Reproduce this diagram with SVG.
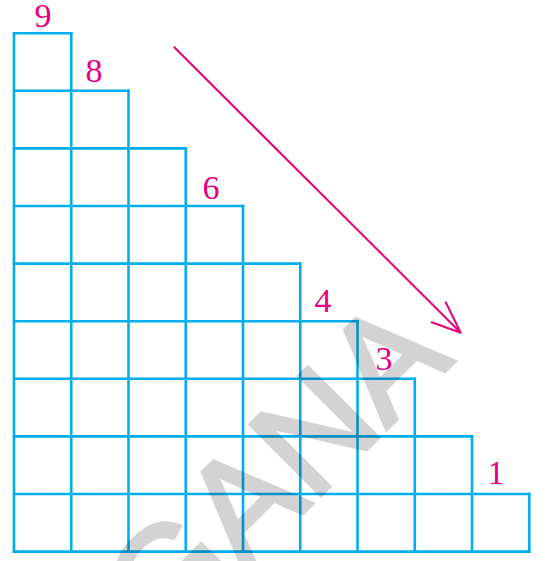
<svg xmlns="http://www.w3.org/2000/svg" width="550" height="561" viewBox="0 0 550 561">
<style>
.g line{stroke:#00AEEF;stroke-width:2.6;stroke-linecap:square}
.lbl{font-family:"Liberation Serif","Times New Roman",serif;font-size:34px;fill:#E6007E;text-anchor:middle}
.arr{stroke:#E6007E;stroke-width:2;fill:none;stroke-linecap:round;stroke-linejoin:round}
.wm{font-family:"Liberation Sans",Arial,sans-serif;font-size:145px;fill:#000;stroke:#000;stroke-width:4;stroke-linejoin:miter}
</style>
<rect width="550" height="561" fill="#fff"/>
<g id="grid" class="g">
<line x1="14" y1="33.2" x2="14" y2="551.6"/>
<line x1="71.25" y1="33.2" x2="71.25" y2="551.6"/>
<line x1="128.5" y1="90.8" x2="128.5" y2="551.6"/>
<line x1="185.75" y1="148.4" x2="185.75" y2="551.6"/>
<line x1="243" y1="206" x2="243" y2="551.6"/>
<line x1="300.25" y1="263.6" x2="300.25" y2="551.6"/>
<line x1="357.5" y1="321.2" x2="357.5" y2="551.6"/>
<line x1="414.75" y1="378.8" x2="414.75" y2="551.6"/>
<line x1="472" y1="436.4" x2="472" y2="551.6"/>
<line x1="529.25" y1="494" x2="529.25" y2="551.6"/>
<line x1="14" y1="33.2" x2="71.25" y2="33.2"/>
<line x1="14" y1="90.8" x2="128.5" y2="90.8"/>
<line x1="14" y1="148.4" x2="185.75" y2="148.4"/>
<line x1="14" y1="206" x2="243" y2="206"/>
<line x1="14" y1="263.6" x2="300.25" y2="263.6"/>
<line x1="14" y1="321.2" x2="357.5" y2="321.2"/>
<line x1="14" y1="378.8" x2="414.75" y2="378.8"/>
<line x1="14" y1="436.4" x2="472" y2="436.4"/>
<line x1="14" y1="494" x2="529.25" y2="494"/>
<line x1="14" y1="551.6" x2="529.25" y2="551.6"/>
</g>
<g id="labels">
<text class="lbl" x="43" y="27">9</text>
<text class="lbl" x="94" y="82">8</text>
<text class="lbl" x="211" y="199">6</text>
<text class="lbl" x="323" y="312">4</text>
<text class="lbl" x="384" y="370">3</text>
<text class="lbl" x="496" y="484">1</text>
</g>
<g id="connectors">
<path class="arr" d="M174.3,47.3 L460.7,332.7 M431.7,322.3 L460.7,332.7 L445.7,302.3"/>
</g>
<g id="watermark" opacity="0.17">
<text class="wm" text-anchor="end" transform="translate(455,361) rotate(-45)">GANA</text>
</g>
</svg>
